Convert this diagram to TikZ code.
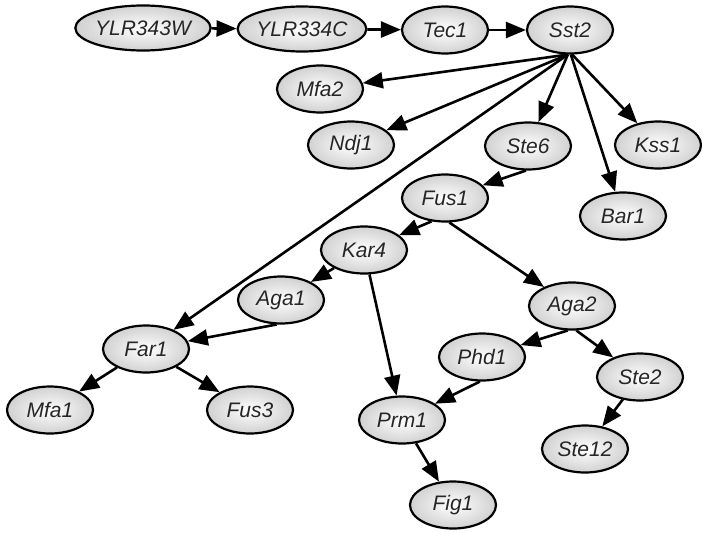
\documentclass[tikz,border=0pt]{standalone}
\usepackage{fontspec}
\setmainfont{Liberation Sans}
\usetikzlibrary{shapes.geometric,arrows.meta}
\begin{document}
\begin{tikzpicture}[x=1pt,y=-1pt,
  gene/.style={ellipse,draw=black,line width=2.2pt,inner sep=0pt,
    minimum width=86pt,minimum height=47pt,
    shading=radial,inner color=white,outer color=gray!36,
    font=\fontsize{21}{23}\selectfont\itshape,text=black!85},
  wide/.style={minimum width=118pt,minimum height=45pt},
  link/.style={draw=black,line width=2.6pt,
    -{Triangle[length=20pt,width=16pt]}}]
\useasboundingbox (0,0) rectangle (702,533);
% genes
\node[gene,wide] (ylr343w) at (143,28) {YLR343W};
\node[gene,wide] (ylr334c) at (302,29) {YLR334C};
\node[gene] (tec1) at (445,30) {Tec1};
\node[gene] (sst2) at (570,30) {Sst2};
\node[gene] (mfa2) at (320,89) {Mfa2};
\node[gene] (ndj1) at (351,145) {Ndj1};
\node[gene] (ste6) at (528,146) {Ste6};
\node[gene] (kss1) at (658,145) {Kss1};
\node[gene] (fus1) at (445,198) {Fus1};
\node[gene] (bar1) at (623,216) {Bar1};
\node[gene] (kar4) at (364,250) {Kar4};
\node[gene] (aga1) at (281,300) {Aga1};
\node[gene] (aga2) at (572,306) {Aga2};
\node[gene] (far1) at (146,349) {Far1};
\node[gene] (phd1) at (482,357) {Phd1};
\node[gene] (ste2) at (640,377) {Ste2};
\node[gene] (mfa1) at (50,410) {Mfa1};
\node[gene] (fus3) at (250,410) {Fus3};
\node[gene] (prm1) at (402,420) {Prm1};
\node[gene] (ste12) at (585,449) {Ste12};
\node[gene] (fig1) at (453,505) {Fig1};
% regulatory links
\draw[link] (ylr343w) -- (ylr334c);
\draw[link] (ylr334c) -- (tec1);
\draw[link] (tec1) -- (sst2);
\draw[link] (sst2.-95) -- (mfa2);
\draw[link] (sst2.-95) -- (ndj1);
\draw[link] (sst2.-95) -- (far1);
\draw[link] (sst2.-95) -- (ste6);
\draw[link] (sst2.-88) -- (bar1);
\draw[link] (sst2.-85) -- (kss1);
\draw[link] (ste6.-95) -- (fus1);
\draw[link] (fus1.-120) -- (kar4);
\draw[link] (fus1.-80) -- (aga2);
\draw[link] (kar4) -- (aga1);
\draw[link] (kar4) -- (prm1);
\draw[link] (aga1.-100) -- (far1);
\draw[link] (far1) -- (mfa1);
\draw[link] (far1) -- (fus3);
\draw[link] (aga2.-100) -- (phd1);
\draw[link] (aga2.-80) -- (ste2);
\draw[link] (phd1.-95) -- (prm1);
\draw[link] (ste2) -- (ste12);
\draw[link] (prm1) -- (fig1);
\end{tikzpicture}
\end{document}
